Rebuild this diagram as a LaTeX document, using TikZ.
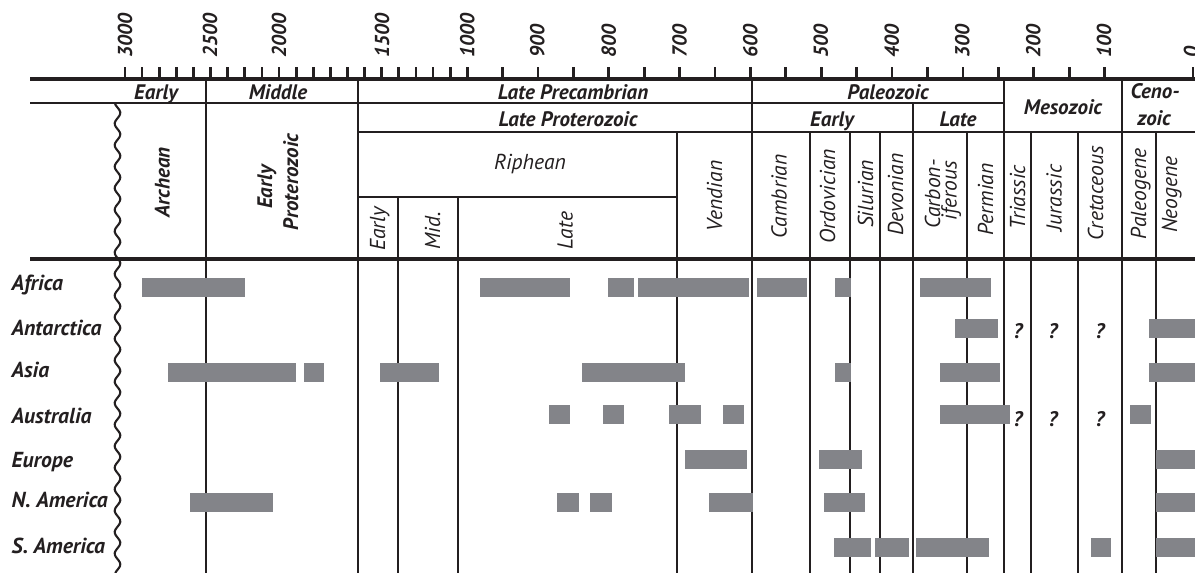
\documentclass[tikz,border=0pt]{standalone}
\usepackage{fontspec}
\setmainfont{PT Sans}
\definecolor{barcol}{RGB}{131,132,137}
\definecolor{inkc}{RGB}{35,31,32}
\begin{document}
\begin{tikzpicture}[x=1pt,y=-1pt,
  axisline/.style={draw=inkc,line width=3.3pt},
  colline/.style={draw=inkc,line width=2.8pt},
  rowline/.style={draw=inkc,line width=2.4pt},
  tickmark/.style={draw=inkc,line width=2.7pt},
  wavy/.style={draw=inkc,line width=2.1pt},
  bar/.style={fill=barcol},
  bi/.style={font=\fontsize{21}{23}\selectfont\bfseries\itshape, text=inkc, inner sep=0pt},
  bil/.style={font=\fontsize{21.7}{23}\selectfont\bfseries\itshape, text=inkc, inner sep=0pt},
  it/.style={font=\fontsize{21.6}{23}\selectfont\itshape, text=inkc, inner sep=0pt},
  rot/.style={rotate=90, anchor=base},
  axnum/.style={font=\fontsize{20.2}{22}\selectfont\bfseries\itshape, text=inkc, inner sep=0pt, rotate=90, anchor=west},
]
\useasboundingbox (0,0) rectangle (1195,573);
\clip (0,0) rectangle (1195,573);

% ---- ticks ----
\foreach \i in {0,...,20} \draw[tickmark] ({125+\i*17.115},67) -- ++(0,12);
\foreach \i in {1,...,8} \draw[tickmark] ({467.3+\i*35.375},67) -- ++(0,12);
\foreach \i in {1,...,10} \draw[tickmark] ({750.3+\i*35.44},67) -- ++(0,12);
\draw[tickmark] (1193,67) -- ++(0,12);

% ---- axis labels ----
\node[axnum] (a3000) at (125,58) {3000};
\node[axnum] (a2500) at (210,58) {2500};
\node[axnum] (a2000) at (279,58) {2000};
\node[axnum] (a1500) at (382,58) {1500};
\node[axnum] (a1000) at (467.3,58) {1000};
\node[axnum] (a900) at (537.3,58) {900};
\node[axnum] (a800) at (608.8,58) {800};
\node[axnum] (a700) at (679.6,58) {700};
\node[axnum] (a600) at (750.3,58) {600};
\node[axnum] (a500) at (820.7,58) {500};
\node[axnum] (a400) at (891.7,58) {400};
\node[axnum] (a300) at (962.3,58) {300};
\node[axnum] (a200) at (1033.3,58) {200};
\node[axnum] (a100) at (1104,58) {100};
\node[axnum] (a0) at (1191,58) {0};

% ---- table lines ----
\draw[axisline] (30,79) -- (1195,79);
\draw[rowline] (30,103) -- (1004,103);
\draw[rowline] (358,132) -- (1195,132);
\draw[rowline] (358,197) -- (677,197);
\draw[axisline] (30,259) -- (1195,259);

\foreach \xx in {206,358,752,1004,1122} \draw[colline] (\xx,79) -- (\xx,573);
\draw[colline] (913,103) -- (913,573);
\foreach \xx in {677,810,850,880,967,1031,1078,1156} \draw[colline] (\xx,132) -- (\xx,573);
\foreach \xx in {398,458} \draw[colline] (\xx,197) -- (\xx,573);

\draw[wavy] plot[domain=103:573,samples=260,smooth] ({117.5+2.8*sin((\x/21.5)*360)},\x);

% ---- header texts ----
\node[bi,anchor=base] (hearly) at (156,99) {Early};
\node[bi,anchor=base] (hmiddle) at (278,99) {Middle};
\node[bi,anchor=base] (hlpc) at (573,99) {Late Precambrian};
\node[bi,anchor=base] (hpaleo) at (888,99) {Paleozoic};
\node[bi,anchor=base] (hmeso) at (1063,114) {Mesozoic};
\node[bi,anchor=base] (hceno) at (1155,98.5) {Ceno-};
\node[bi,anchor=base] (hzoic) at (1154,125) {zoic};
\node[bi,anchor=base] (hlpz) at (568,126) {Late Proterozoic};
\node[bi,anchor=base] (hpearly) at (832,126) {Early};
\node[bi,anchor=base] (hplate) at (958,126) {Late};

\node[bi,rot] (harch) at (169.5,182.5) {Archean};
\node[bi,rot] (hep1) at (272,187) {Early};
\node[bi,rot] (hep2) at (298,182) {Proterozoic};

\node[it,anchor=base] (hriph) at (530,169) {Riphean};
\node[it,rot] (hre) at (385,229) {Early};
\node[it,rot] (hrm) at (440,230.7) {Mid.};
\node[it,rot] (hrl) at (572.7,230.5) {Late};
\node[it,rot] (hvend) at (722,196) {Vendian};
\node[it,rot] (hcamb) at (786.7,196.3) {Cambrian};
\node[it,rot] (hord) at (835,196.3) {Ordovician};
\node[it,rot] (hsil) at (873,194) {Silurian};
\node[it,rot] (hdev) at (903,194.7) {Devonian};
\node[it,rot] (hcarb1) at (940,194) {Carbon-};
\node[it,rot] (hcarb2) at (956.5,190.5) {iferous};
\node[it,rot] (hperm) at (993,199.5) {Permian};
\node[it,rot] (htri) at (1025,197) {Triassic};
\node[it,rot] (hjur) at (1061.5,198) {Jurassic};
\node[it,rot] (hcret) at (1103,193) {Cretaceous};
\node[it,rot] (hpal) at (1146,194) {Paleogene};
\node[it,rot] (hneo) at (1177,194.5) {Neogene};

% ---- row labels ----
\node[bil,anchor=base west] (lafr) at (11.5,290.7) {Africa};
\node[bil,anchor=base west] (lant) at (11.5,335.7) {Antarctica};
\node[bil,anchor=base west] (lasia) at (11.5,377.3) {Asia};
\node[bil,anchor=base west] (laus) at (11.5,423.3) {Australia};
\node[bil,anchor=base west] (leur) at (11.5,467.3) {Europe};
\node[bil,anchor=base west] (lna) at (11.5,507.3) {N. America};
\node[bil,anchor=base west] (lsa) at (11.5,553.3) {S. America};

% ---- bars ----
\foreach \a/\b in {142/245,480/570,608/634,638/749,757/807,835/851,920/991}
  \fill[bar] (\a,277.7) rectangle (\b,296.7);
\foreach \a/\b in {955/998,1149/1196}
  \fill[bar] (\a,319) rectangle (\b,338);
\foreach \a/\b in {168/296,304/324,380/439,582/685,835/851,940/1000,1149/1196}
  \fill[bar] (\a,363) rectangle (\b,381.7);
\foreach \a/\b in {549/570,603/624,669/701,723/744,940/1010,1130/1151}
  \fill[bar] (\a,405) rectangle (\b,423.7);
\foreach \a/\b in {685/747,819/862,1156/1196}
  \fill[bar] (\a,450) rectangle (\b,468.7);
\foreach \a/\b in {190/273,557/579,590/612,709/753,824/865,1156/1196}
  \fill[bar] (\a,493) rectangle (\b,511.7);
\foreach \a/\b in {834/871,875/909,916/989,1091/1111,1156/1196}
  \fill[bar] (\a,538) rectangle (\b,556.7);

% ---- question marks ----
\node[bi,anchor=base] (q1) at (1018,338) {?};
\node[bi,anchor=base] (q2) at (1053,338) {?};
\node[bi,anchor=base] (q3) at (1100,338) {?};
\node[bi,anchor=base] (q4) at (1018,426) {?};
\node[bi,anchor=base] (q5) at (1053,426) {?};
\node[bi,anchor=base] (q6) at (1100,426) {?};
\end{tikzpicture}
\end{document}
